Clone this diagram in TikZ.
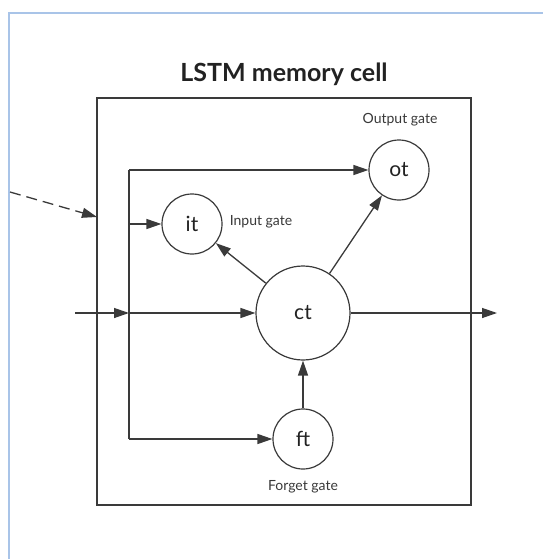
\documentclass[tikz,border=0pt]{standalone}
\usepackage{fontspec}
\setmainfont{Lato}
\usetikzlibrary{arrows.meta}
\definecolor{framec}{HTML}{A9C4E8}
\definecolor{linec}{HTML}{3A3A3A}
\definecolor{textc}{HTML}{222222}
\begin{document}
\begin{tikzpicture}[x=1pt,y=-1pt,
  ln/.style={draw=linec, line width=1.3pt},
  arr/.style={ln, -{Triangle[length=15pt,width=10pt]}},
  gate/.style={circle, draw=linec, line width=1.2pt, minimum size=60pt, inner sep=0pt, text=textc, font=\fontsize{21}{21}\selectfont},
  lbl/.style={text=textc!90, font=\fontsize{14}{14}\selectfont, inner sep=0pt}]
\useasboundingbox (0,0) rectangle (542,559);
\draw[framec, line width=1.5pt] (9,559) -- (9,13) -- (543,13);
\node[font=\bfseries\fontsize{25}{25}\selectfont, text=textc] (title) at (284,74) {LSTM memory cell};
\node[draw=linec, line width=1.3pt, minimum width=374pt, minimum height=407pt, inner sep=0pt] (cell) at (284,301.5) {};
\node[gate] (it) at (192,224) {it};
\node[gate] (ot) at (399,170) {ot};
\node[gate] (ft) at (303,439) {ft};
\node[gate, minimum size=94pt] (ct) at (303,313) {ct};
\node[lbl] (itl) at (261,222) {Input gate};
\node[lbl] (otl) at (400,120) {Output gate};
\node[lbl] (ftl) at (303,487) {Forget gate};
\coordinate (in) at (75,313);
\coordinate (j) at (129,313);
\coordinate (top) at (129,170);
\coordinate (yi) at (129,224);
\coordinate (bot) at (129,439);
\coordinate (out) at (497,313);
\coordinate (ds) at (10,192);
\coordinate (de) at (97,217);
\draw[ln] (top) -- (bot);
\draw[arr] (in) -- (j);
\draw[arr] (j) -- (ct);
\draw[arr] (top) -- (ot);
\draw[arr] (yi) -- (it);
\draw[arr] (bot) -- (ft);
\draw[arr] (ft) -- (ct);
\draw[arr] (ct) -- (it);
\draw[arr] (ct) -- (ot);
\draw[arr] (ct) -- (out);
\draw[arr, dash pattern=on 11pt off 6pt] (ds) -- (de);
\end{tikzpicture}
\end{document}
